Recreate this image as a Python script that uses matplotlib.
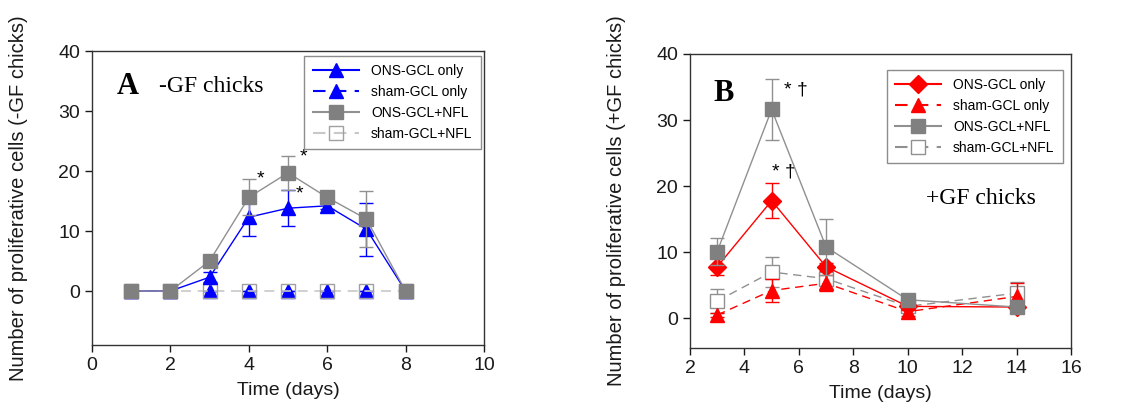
import matplotlib.pyplot as plt
from matplotlib.lines import Line2D

plt.rcParams['font.family'] = ['Liberation Sans', 'DejaVu Sans']

# panel A: -GF chicks
days_a = [1, 2, 3, 4, 5, 6, 7, 8]
ons_only_a = [0, 0, 2.3, 12.3, 13.8, 14.2, 10.3, 0]
ons_only_a_err = [0, 0, 0.8, 3.2, 3.0, 0.5, 4.4, 0]
sham_only_a = [0, 0, 0, 0, 0, 0, 0, 0]
sham_only_a_err = [0, 0, 0, 0, 0, 0, 0, 0]
ons_nfl_a = [0, 0, 5.0, 15.6, 19.7, 15.6, 12.0, 0]
ons_nfl_a_err = [0, 0, 0.8, 3.0, 2.8, 0.5, 4.6, 0]
sham_nfl_a = [0, 0, 0, 0, 0, 0, 0, 0]

# panel B: +GF chicks
days_b = [3, 5, 7, 10, 14]
ons_only_b = [7.8, 17.8, 7.8, 1.8, 1.7]
ons_only_b_err = [1.3, 2.6, 0.6, 0.5, 0.3]
sham_only_b = [0.5, 4.2, 5.3, 1.0, 3.3]
sham_only_b_err = [0.3, 1.7, 1.2, 0.6, 2.0]
ons_nfl_b = [10.1, 31.6, 10.8, 2.8, 1.7]
ons_nfl_b_err = [2.0, 4.6, 4.3, 0.3, 0.3]
sham_nfl_b = [2.6, 7.0, 6.0, 1.8, 3.8]
sham_nfl_b_err = [1.8, 2.3, 1.5, 0.5, 1.7]

labels = ['ONS-GCL only', 'sham-GCL only', 'ONS-GCL+NFL', 'sham-GCL+NFL']

fig = plt.figure(figsize=(11.37, 4.19), dpi=100)
axA = fig.add_axes([92/1137, 1 - 345/419, 392/1137, 294/419])
axB = fig.add_axes([690/1137, 1 - 348/419, 381/1137, 294/419])

gray = '#808080'
lgray = '#c8c8c8'
blue = '#0000ff'
red = '#ff0000'
txt = '#1a1a1a'
dash = (0, (6, 4))


def series(ax, x, y, err, color, ls, marker, ms, mfc, mec, lw=1.0, z=3):
    ax.errorbar(x, y, yerr=err, color=color, ls=ls, lw=lw, marker=marker, ms=ms,
                mfc=mfc, mec=mec, ecolor=color, elinewidth=1.0, capsize=5,
                capthick=1.0, zorder=z)


# A (the blue dashed line sits under the grey one at zero)
series(axA, days_a, sham_only_a, sham_only_a_err, blue, 'none', '^', 10, blue, blue, z=2)
series(axA, days_a, sham_nfl_a, None, lgray, dash, 's', 9.5, 'none', '#a0a0a0', lw=1.2, z=3)
series(axA, days_a, ons_only_a, ons_only_a_err, blue, '-', '^', 10, blue, blue, z=4)
series(axA, days_a, ons_nfl_a, ons_nfl_a_err, '#909090', '-', 's', 9.5, gray, gray, z=5)

# B
series(axB, days_b, sham_nfl_b, sham_nfl_b_err, '#909090', dash, 's', 9.5, 'white', '#909090', z=2)
series(axB, days_b, sham_only_b, sham_only_b_err, red, dash, '^', 10, red, red, z=3)
series(axB, days_b, ons_only_b, ons_only_b_err, red, '-', 'D', 9, red, red, z=4)
series(axB, days_b, ons_nfl_b, ons_nfl_b_err, '#909090', '-', 's', 9.5, gray, gray, z=5)

for ax in (axA, axB):
    ax.set_ylim(-9 if ax is axA else -4.5, 40)
    ax.set_yticks([0, 10, 20, 30, 40])
    ax.tick_params(direction='out', length=5, labelsize=14, colors=txt, width=1)
    ax.set_xlabel('Time (days)', fontsize=14, color=txt, labelpad=6)
    for s in ax.spines.values():
        s.set_color('#333333')
        s.set_linewidth(1.0)

axA.set_xlim(0, 10)
axA.set_xticks([0, 2, 4, 6, 8, 10])
axB.set_xlim(2, 16)
axB.set_xticks([2, 4, 6, 8, 10, 12, 14, 16])
axA.set_ylabel('Number of proliferative cells (-GF chicks)', fontsize=14.5, color=txt, labelpad=22)
axB.set_ylabel('Number of proliferative cells (+GF chicks)', fontsize=14.5, color=txt, labelpad=22)

serif = ['Liberation Serif', 'DejaVu Serif']
axA.text(0.09, 0.88, 'A', transform=axA.transAxes, fontsize=22, fontweight='bold',
         family=serif, ha='center', va='center')
axA.text(0.17, 0.88, '-GF chicks', transform=axA.transAxes, fontsize=17,
         family=serif, ha='left', va='center')
axB.text(0.087, 0.867, 'B', transform=axB.transAxes, fontsize=22, fontweight='bold',
         family=serif, ha='center', va='center')
axB.text(0.62, 0.51, '+GF chicks', transform=axB.transAxes, fontsize=17,
         family=serif, ha='left', va='center')

# significance marks
axA.text(4.3, 18.6, '*', fontsize=14, ha='center', va='center')
axA.text(5.4, 22.3, '*', fontsize=14, ha='center', va='center')
axA.text(5.3, 16.1, '*', fontsize=14, ha='center', va='center')
axB.text(5.45, 34.6, '* \u2020', fontsize=14, ha='left', va='center')
axB.text(5.0, 22.1, '* \u2020', fontsize=14, ha='left', va='center')

legkw = dict(fontsize=10, handlelength=3.3, frameon=True, fancybox=False,
             borderpad=0.6, labelspacing=0.5, handletextpad=0.9, borderaxespad=0)

# legends
hA = [Line2D([], [], color=blue, ls='-', marker='^', ms=10, mfc=blue, mec=blue),
      Line2D([], [], color=blue, ls=dash, marker='^', ms=10, mfc=blue, mec=blue),
      Line2D([], [], color='#909090', ls='-', marker='s', ms=9.5, mfc=gray, mec=gray),
      Line2D([], [], color=lgray, ls=dash, marker='s', ms=9.5, mfc='none', mec='#a0a0a0')]
legA = axA.legend(hA, labels, loc='upper right', bbox_to_anchor=(481/392 - 92/392, 1 - 5/294),
                  **legkw)
legA.get_frame().set_edgecolor('#707070')
legA.get_frame().set_linewidth(1.0)

hB = [Line2D([], [], color=red, ls='-', marker='D', ms=9, mfc=red, mec=red),
      Line2D([], [], color=red, ls=dash, marker='^', ms=10, mfc=red, mec=red),
      Line2D([], [], color='#909090', ls='-', marker='s', ms=9.5, mfc=gray, mec=gray),
      Line2D([], [], color='#909090', ls=dash, marker='s', ms=9.5, mfc='white', mec='#909090')]
legB = axB.legend(hB, labels, loc='upper right', bbox_to_anchor=((1063 - 690)/381, 1 - 16/294),
                  **legkw)
legB.get_frame().set_edgecolor('#707070')
legB.get_frame().set_linewidth(1.0)

plt.savefig('out.png', dpi=100)
